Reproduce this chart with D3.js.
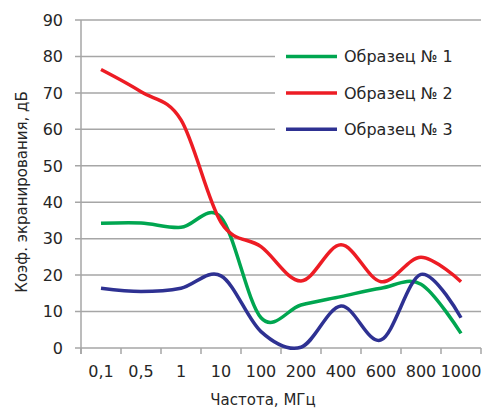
<!DOCTYPE html>
<html><head><meta charset="utf-8">
<script src="https://cdn.jsdelivr.net/npm/d3@7"></script>
<style>body{margin:0;background:#fff;} text{font-family:"DejaVu Sans",sans-serif;fill:#262626;}</style>
</head><body>
<svg id="c" width="488" height="410"></svg>
<script>
const categories = ["0,1","0,5","1","10","100","200","400","600","800","1000"];
const sample1 = [34.2, 34.3, 33.1, 35.8, 8.3, 11.8, 14.1, 16.4, 17.5, 4.0];
const sample2 = [76.4, 70.3, 62.6, 34.5, 27.8, 18.4, 28.3, 18.2, 24.9, 18.2];
const sample3 = [16.4, 15.5, 16.4, 19.8, 4.5, 0.2, 11.5, 2.2, 20.2, 8.3];
const seriesNames = ["Образец № 1","Образец № 2","Образец № 3"];
const yTicks = [0,10,20,30,40,50,60,70,80,90];
const colors = ["#00a650","#ed1c24","#2e3192"];

const svg = d3.select("#c");
const x = d3.scaleBand().domain(categories).range([81,481]).padding(0);
const y = d3.scaleLinear().domain([0,90]).range([348,20]);
const grid = "#a6a6a6";

// gridlines
svg.append("g").selectAll("line").data(yTicks).join("line")
  .attr("x1",75).attr("x2",481).attr("y1",d=>y(d)).attr("y2",d=>y(d))
  .attr("stroke",grid).attr("stroke-width",1.5);
// y axis line
svg.append("line").attr("x1",81).attr("x2",81).attr("y1",y(90)).attr("y2",y(0)+6)
  .attr("stroke",grid).attr("stroke-width",1.5);
// y labels
svg.append("g").selectAll("text").data(yTicks).join("text")
  .attr("x",63).attr("y",d=>y(d)).attr("dy","0.36em").attr("text-anchor","end")
  .attr("font-size",16).text(d=>d);
// x ticks at band edges
const edges = categories.map(c=>x(c)).concat([x(categories[categories.length-1])+x.bandwidth()]);
svg.append("g").selectAll("line").data(edges).join("line")
  .attr("x1",d=>d).attr("x2",d=>d).attr("y1",y(0)).attr("y2",y(0)+6)
  .attr("stroke",grid).attr("stroke-width",1.5);
// x labels
svg.append("g").selectAll("text").data(categories).join("text")
  .attr("x",d=>x(d)+x.bandwidth()/2).attr("y",377).attr("text-anchor","middle")
  .attr("font-size",16).text(d=>d);
// titles
svg.append("text").attr("x",263).attr("y",405).attr("text-anchor","middle").attr("font-size",15).text("Частота, МГц");
svg.append("text").attr("transform","translate(27,192) rotate(-90)").attr("text-anchor","middle").attr("font-size",15).text("Коэф. экранирования, дБ");

// lines
const line = d3.line().x((d,i)=>x(categories[i])+x.bandwidth()/2).y(d=>y(d)).curve(d3.curveCatmullRom.alpha(0));
[sample1,sample2,sample3].forEach((s,i)=>{
  svg.append("path").datum(s).attr("d",line).attr("fill","none")
    .attr("stroke",colors[i]).attr("stroke-width",3.5).attr("stroke-linejoin","round");
});

// legend
svg.append("rect").attr("x",275).attr("y",40).attr("width",213).attr("height",108).attr("fill","#fff");
const lg = svg.append("g");
seriesNames.forEach((n,i)=>{
  const yy = y(80-10*i);
  lg.append("line").attr("x1",286).attr("x2",337).attr("y1",yy).attr("y2",yy)
    .attr("stroke",colors[i]).attr("stroke-width",3.5);
  lg.append("text").attr("x",344).attr("y",yy).attr("dy","0.36em").attr("font-size",16).text(n);
});
</script>
</body></html>
